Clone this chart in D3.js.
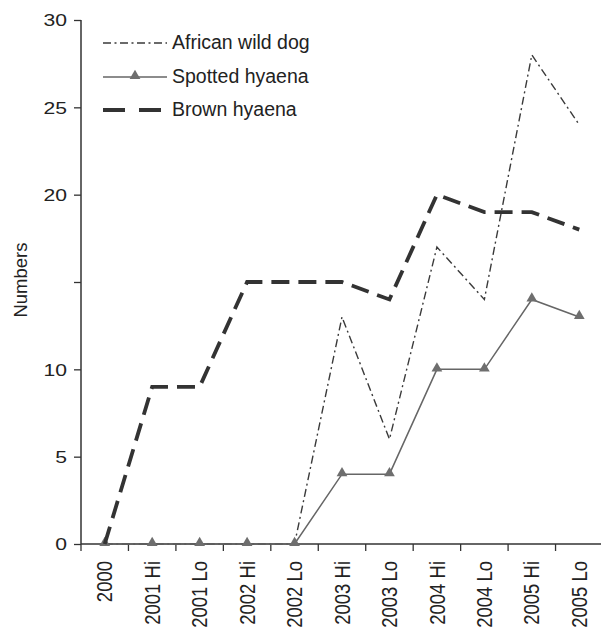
<!DOCTYPE html>
<html>
<head>
<meta charset="utf-8">
<script src="https://cdn.jsdelivr.net/npm/d3@7"></script>
<style>
  html, body { margin: 0; padding: 0; background: #fff; }
  text { font-family: "Liberation Sans", Arial, sans-serif; fill: #222; }
</style>
</head>
<body>
<svg id="chart" width="601" height="635"></svg>
<script>
const categories = ["2000", "2001 Hi", "2001 Lo", "2002 Hi", "2002 Lo", "2003 Hi", "2003 Lo", "2004 Hi", "2004 Lo", "2005 Hi", "2005 Lo"];
const wildDog      = [0, 0, 0, 0, 0, 13, 6, 17, 14, 28, 24];
const spottedHyaena = [0, 0, 0, 0, 0, 4, 4, 10, 10, 14, 13];
const brownHyaena   = [0, 9, 9, 15, 15, 15, 14, 20, 19, 19, 18];
const yTicks = [0, 5, 10, 15, 20, 25, 30];
const yTickLabels = ["0", "5", "10", "", "20", "25", "30"];
const seriesNames = ["African wild dog", "Spotted hyaena", "Brown hyaena"];

const svg = d3.select("#chart");
const x = d3.scaleBand().domain(categories).range([81, 603]);
const y = d3.scaleLinear().domain([0, 30]).range([544, 20]);
const cx = c => x(c) + x.bandwidth() / 2;

// Y axis
const yAxis = d3.axisLeft(y).tickValues(yTicks).tickSize(7).tickPadding(0)
  .tickFormat((d, i) => yTickLabels[i]);
const gy = svg.append("g").attr("transform", "translate(81,0)").call(yAxis);
gy.select(".domain").attr("stroke", "#333").attr("stroke-width", 1.5).attr("d", "M0,20V544");
gy.selectAll(".tick line").attr("stroke", "#333").attr("stroke-width", 1.3);
gy.selectAll(".tick text")
  .attr("font-size", 16.5).attr("fill", "#222")
  .attr("x", 0).attr("dy", "0.36em")
  .attr("transform", "translate(-14,0) scale(1.28,1)")
  .attr("text-anchor", "end");

// X axis
const xAxis = d3.axisBottom(x).tickSize(0).tickPadding(0);
const gx = svg.append("g").attr("transform", "translate(0,544)").call(xAxis);
gx.select(".domain").attr("stroke", "#333").attr("stroke-width", 1.5).attr("d", "M81,0H601");
gx.selectAll(".tick text")
  .attr("font-size", 18.5).attr("fill", "#222")
  .attr("x", 0).attr("y", 0).attr("dy", "0.36em")
  .attr("text-anchor", "end")
  .attr("transform", "translate(0,17) scale(1.15,1) rotate(-90)");
// boundary ticks
gx.selectAll(".btick").data(categories).enter().append("line")
  .attr("class", "btick")
  .attr("x1", d => x(d)).attr("x2", d => x(d))
  .attr("y1", 0).attr("y2", 7)
  .attr("stroke", "#333").attr("stroke-width", 1.3);

// Y label
svg.append("text")
  .attr("transform", "translate(27,280) rotate(-90)")
  .attr("text-anchor", "middle")
  .attr("font-size", 18.5)
  .text("Numbers");

// Lines
const line = d3.line().x((d, i) => cx(categories[i])).y(d => y(d));

svg.append("path").datum(wildDog)
  .attr("d", line).attr("fill", "none")
  .attr("stroke", "#3a3a3a").attr("stroke-width", 1.4)
  .attr("stroke-dasharray", "8,3.5,2,3.5");

svg.append("path").datum(spottedHyaena)
  .attr("d", line).attr("fill", "none")
  .attr("stroke", "#666").attr("stroke-width", 1.5);

const tri = d3.symbol().type(d3.symbolTriangle).size(50);
svg.selectAll(".tri").data(spottedHyaena).enter().append("path")
  .attr("class", "tri")
  .attr("d", tri)
  .attr("transform", (d, i) => `translate(${cx(categories[i])},${y(d) - 1})`)
  .attr("fill", "#6e6e6e");

svg.append("path").datum(brownHyaena)
  .attr("d", line).attr("fill", "none")
  .attr("stroke", "#333").attr("stroke-width", 3.8)
  .attr("stroke-dasharray", "18,9");

// Legend
const legY = [43, 77, 110];
const lg = svg.append("g");
lg.append("line").attr("x1", 103).attr("x2", 167).attr("y1", legY[0]).attr("y2", legY[0])
  .attr("stroke", "#3a3a3a").attr("stroke-width", 1.4).attr("stroke-dasharray", "8,3.5,2,3.5");
lg.append("line").attr("x1", 103).attr("x2", 167).attr("y1", legY[1]).attr("y2", legY[1])
  .attr("stroke", "#666").attr("stroke-width", 1.5);
lg.append("path").attr("d", tri).attr("transform", `translate(135,${legY[1] - 1})`).attr("fill", "#6e6e6e");
lg.append("line").attr("x1", 103).attr("x2", 161).attr("y1", legY[2]).attr("y2", legY[2])
  .attr("stroke", "#333").attr("stroke-width", 3.8).attr("stroke-dasharray", "22,14");

lg.selectAll(".lt").data(seriesNames).enter().append("text")
  .attr("x", 172).attr("y", (d, i) => legY[i] + 6)
  .attr("font-size", 19.5)
  .text(d => d);
</script>
</body>
</html>
